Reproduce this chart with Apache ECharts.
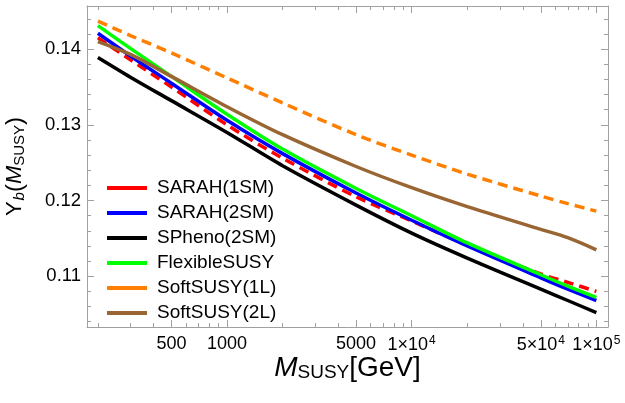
<!DOCTYPE html>
<html>
<head>
<meta charset="utf-8">
<script src="https://cdn.jsdelivr.net/npm/echarts@6/dist/echarts.min.js"></script>
<style>
  html, body { margin: 0; padding: 0; background: #fff; }
  #chart { width: 625px; height: 403px; }
</style>
</head>
<body>
<div id="chart"></div>
<script>
// M_SUSY sample points [GeV]
var massPoints = [200, 300, 500, 1000, 2000, 5000, 10000, 20000, 50000, 70000, 100000];

// Y_b(M_SUSY)
var sarah1SM   = [0.1415, 0.1386, 0.1350, 0.1300, 0.1256, 0.1205, 0.1173, 0.1141, 0.1103, 0.1092, 0.1080];
var sarah2SM   = [0.1421, 0.1391, 0.1355, 0.1306, 0.1262, 0.1210, 0.1174, 0.1140, 0.1098, 0.1083, 0.1068];
var spheno2SM  = [0.1389, 0.1363, 0.1332, 0.1290, 0.1246, 0.1194, 0.1157, 0.1124, 0.1083, 0.1068, 0.1052];
var flexible   = [0.1431, 0.1401, 0.1364, 0.1314, 0.1268, 0.1216, 0.1180, 0.1144, 0.1102, 0.1087, 0.1072];
var softsusy1L = [0.1437, 0.1418, 0.1395, 0.1362, 0.1329, 0.1287, 0.1260, 0.1235, 0.1206, 0.1196, 0.1186];
var softsusy2L = [0.1410, 0.1393, 0.1364, 0.1324, 0.1287, 0.1245, 0.1217, 0.1192, 0.1162, 0.1151, 0.1135];

// ticks
var xMajorTicks = [500, 1000, 5000, 10000, 50000, 100000];
var xTickLabels = ['{n|500}', '{n|1000}', '{n|5000}', '{n|1×10}{s|4}', '{n|5×10}{s|4}', '{n|1×10}{s|5}'];
var xMinorTicks = [200, 300, 400, 600, 700, 800, 900, 2000, 3000, 4000, 6000, 7000, 8000, 9000,
                   20000, 30000, 40000, 60000, 70000, 80000, 90000];
var yMajorTicks = [0.11, 0.12, 0.13, 0.14];
var yMinorTicks = [0.104, 0.106, 0.108, 0.112, 0.114, 0.116, 0.118, 0.122, 0.124, 0.126, 0.128,
                   0.132, 0.134, 0.136, 0.138, 0.142, 0.144];

var X_MIN = 2.242, X_MAX = 5.063;
var Y_MIN = 0.1033, Y_MAX = 0.1457;
var FRAME = '#a0a0a0';
var FONT = '"Liberation Sans", Arial, sans-serif';

function lg(v){ return Math.log10(v); }

function toPairs(ys){
    var out = [];
    for (var i = 0; i < massPoints.length; i++) {
        out.push([lg(massPoints[i]), ys[i]]);
    }
    return out;
}

function xAxisDef(pos, major, showLabel){
    var ticks = (major ? xMajorTicks : xMinorTicks).map(lg);
    return {
        type: 'value',
        position: pos,
        min: X_MIN,
        max: X_MAX,
        splitLine: {show: false},
        axisLine: {show: major, onZero: false, lineStyle: {color: FRAME, width: 1}},
        axisTick: {show: true, inside: true, length: major ? 7 : 4, customValues: ticks,
                   lineStyle: {color: FRAME, width: 1}},
        axisLabel: {
            show: showLabel,
            customValues: ticks,
            margin: 8,
            color: '#000',
            fontFamily: FONT,
            fontSize: 18,
            formatter: function(v){
                var best = 0;
                for (var i = 0; i < xMajorTicks.length; i++) {
                    if (Math.abs(lg(xMajorTicks[i]) - v) < Math.abs(lg(xMajorTicks[best]) - v)) best = i;
                }
                return xTickLabels[best];
            },
            rich: {
                n: {fontSize: 18, fontFamily: FONT, color: '#000'},
                s: {fontSize: 12, fontFamily: FONT, color: '#000', verticalAlign: 'top', padding: [0, 0, 9, 1]}
            }
        }
    };
}

function yAxisDef(pos, major, showLabel){
    var ticks = major ? yMajorTicks : yMinorTicks;
    return {
        type: 'value',
        position: pos,
        min: Y_MIN,
        max: Y_MAX,
        splitLine: {show: false},
        axisLine: {show: major, onZero: false, lineStyle: {color: FRAME, width: 1}},
        axisTick: {show: true, inside: true, length: major ? 7 : 4, customValues: ticks,
                   lineStyle: {color: FRAME, width: 1}},
        axisLabel: {
            show: showLabel,
            customValues: ticks,
            margin: 6,
            color: '#000',
            fontFamily: FONT,
            fontSize: 18.5,
            formatter: function(v){ return v.toFixed(2); }
        }
    };
}

var xAxes = [
    xAxisDef('bottom', true, true),
    xAxisDef('bottom', false, false),
    xAxisDef('top', true, false),
    xAxisDef('top', false, false)
];
xAxes[0].name = '{m|M}{sub|SUSY}{t|[GeV]}';
xAxes[0].nameLocation = 'middle';
xAxes[0].nameGap = 26;
xAxes[0].nameMoveOverlap = false;
xAxes[0].nameTextStyle = {
    rich: {
        m: {fontSize: 28, fontStyle: 'italic', fontFamily: FONT, color: '#000', lineHeight: 30},
        sub: {fontSize: 19, fontFamily: FONT, color: '#000', lineHeight: 30, padding: [10, 0, 0, 0]},
        t: {fontSize: 28, fontFamily: FONT, color: '#000', lineHeight: 30}
    }
};

var yAxes = [
    yAxisDef('left', true, true),
    yAxisDef('left', false, false),
    yAxisDef('right', true, false),
    yAxisDef('right', false, false)
];
yAxes[0].name = '{y|Y}{b|b}{p|(}{m|M}{sub|SUSY}{p|)}';
yAxes[0].nameLocation = 'middle';
yAxes[0].nameGap = 58;
yAxes[0].nameMoveOverlap = false;
yAxes[0].nameTextStyle = {
    rich: {
        y: {fontSize: 22, fontFamily: FONT, color: '#000', lineHeight: 28},
        b: {fontSize: 15, fontStyle: 'italic', fontFamily: FONT, color: '#000', lineHeight: 28, padding: [9, 0, 0, 1]},
        p: {fontSize: 24, fontFamily: FONT, color: '#000', lineHeight: 28},
        m: {fontSize: 22, fontStyle: 'italic', fontFamily: FONT, color: '#000', lineHeight: 28},
        sub: {fontSize: 15, fontFamily: FONT, color: '#000', lineHeight: 28, padding: [9, 0, 0, 0]}
    }
};

function lineSeries(name, data, color, dashed){
    return {
        name: name,
        type: 'line',
        xAxisIndex: 0,
        yAxisIndex: 0,
        data: toPairs(data),
        showSymbol: false,
        symbol: 'none',
        smooth: 0.3,
        lineStyle: {color: color, width: 3.5, type: dashed ? [10, 6] : 'solid'},
        itemStyle: {color: color},
        emphasis: {disabled: true},
        animation: false
    };
}

var chart = echarts.init(document.getElementById('chart'), null, {renderer: 'canvas'});
chart.setOption({
    backgroundColor: '#fff',
    animation: false,
    grid: {left: 87, right: 17, top: 6, bottom: 76, containLabel: false, outerBoundsMode: 'none'},
    legend: {
        orient: 'vertical',
        left: 107,
        top: 178,
        padding: 0,
        itemWidth: 40,
        itemHeight: 4,
        itemGap: 5,
        icon: 'rect',
        textStyle: {fontSize: 19, fontFamily: FONT, color: '#000', lineHeight: 20, padding: [0, 0, 0, 5]},
        data: ['SARAH(1SM)', 'SARAH(2SM)', 'SPheno(2SM)', 'FlexibleSUSY', 'SoftSUSY(1L)', 'SoftSUSY(2L)']
    },
    xAxis: xAxes,
    yAxis: yAxes,
    series: [
        lineSeries('SARAH(1SM)', sarah1SM, '#ff0000', true),
        lineSeries('SARAH(2SM)', sarah2SM, '#0000ff', false),
        lineSeries('SPheno(2SM)', spheno2SM, '#000000', false),
        lineSeries('FlexibleSUSY', flexible, '#00ff00', false),
        lineSeries('SoftSUSY(1L)', softsusy1L, '#ff8000', true),
        lineSeries('SoftSUSY(2L)', softsusy2L, '#996633', false)
    ]
});
</script>
</body>
</html>
